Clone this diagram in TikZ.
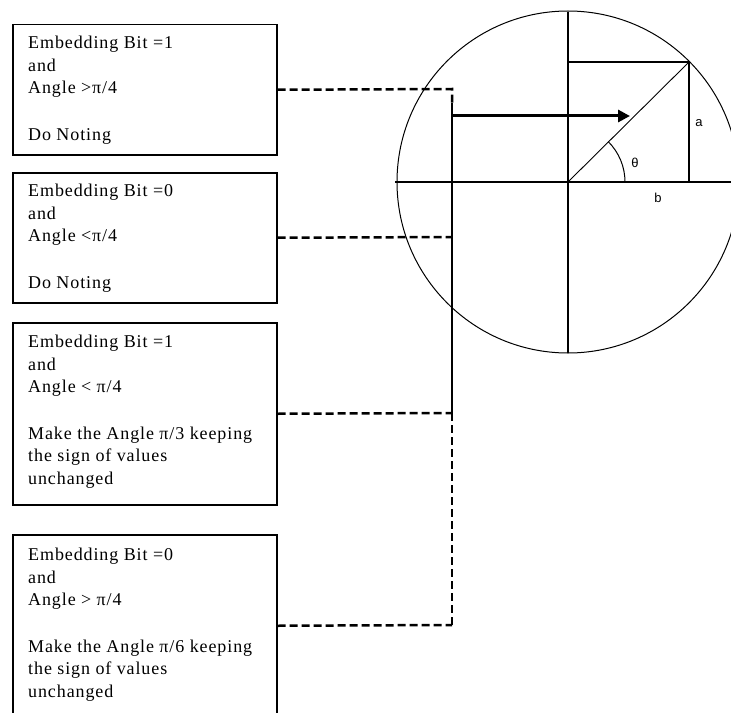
\documentclass[tikz,border=0pt]{standalone}
\usepackage{fontspec}
\setmainfont[LetterSpace=5]{Liberation Serif}
\newfontfamily\lblfont{Liberation Sans}
\usetikzlibrary{arrows.meta}
\begin{document}
\begin{tikzpicture}[x=1bp,y=-1bp,
  boxnode/.style={draw,line width=1.5bp,minimum width=264bp,inner sep=0,anchor=north west},
  txtnode/.style={align=left,inner sep=0,anchor=north west,font=\fontsize{18bp}{22.5bp}\selectfont},
  conn/.style={line width=2.5bp,dash pattern=on 8bp off 4bp},
  geo/.style={line width=1.3bp},
  lbl/.style={font=\lblfont\fontsize{13bp}{15bp}\selectfont,inner sep=0}]
\clip (0,0) rectangle (731,713);
\fill[white] (0,0) rectangle (731,713);
% boxes
\node[boxnode,minimum height=130bp] (b1) at (12,24) {};
\node[boxnode,minimum height=130bp] (b2) at (12,172) {};
\node[boxnode,minimum height=182bp] (b3) at (12,322) {};
\node[boxnode,minimum height=182bp] (b4) at (12,534) {};
% texts
\node[txtnode] (t1) at (28,36) {Embedding Bit =1\\and\\Angle >π/4\\[24bp]Do Noting};
\node[txtnode] (t2) at (28,184) {Embedding Bit =0\\and\\Angle <π/4\\[24bp]Do Noting};
\node[txtnode] (t3) at (28,335) {Embedding Bit =1\\and\\Angle < π/4\\[24bp]Make the Angle π/3 keeping\\the sign of values\\unchanged};
\node[txtnode] (t4) at (28,548) {Embedding Bit =0\\and\\Angle > π/4\\[24bp]Make the Angle π/6 keeping\\the sign of values\\unchanged};
% circle diagram
\coordinate (o) at (568,182);
\coordinate (p) at (689,62);
\draw[line width=1bp] (o) circle[radius=171];
\draw[geo] (568,12) -- (568,353);
\draw[geo] (395,182) -- (740,182);
\draw[geo] (568,62) -- (p) -- (689,182);
\draw[line width=0.9bp] (o) -- (p);
\draw[line width=1bp] (625,182) arc[start angle=0,end angle=-45,radius=57];
\node[lbl] (th) at (635,163) {θ};
\node[lbl] (la) at (699,123) {a};
\node[lbl] (lb) at (658,198) {b};
% connectors
\coordinate (j1) at (452,89);
\coordinate (jt) at (452,103);
\coordinate (j2) at (452,237);
\coordinate (j3) at (452,413);
\coordinate (j4) at (452,625);
\coordinate (a0) at (452,116);
\coordinate (a1) at (630,116);
\draw[conn] (b1.east) -- (j1) -- (jt);
\draw[line width=1.5bp] (jt) -- (j3);
\draw[conn] (b2.east) -- (j2);
\draw[conn] (b3.east) -- (j3);
\draw[line width=1.5bp,dash pattern=on 8bp off 4bp] (j3) -- (j4);
\draw[conn] (b4.east) -- (j4);
\draw[line width=3bp,-{Triangle[length=12bp,width=12bp]}] (a0) -- (a1);
\end{tikzpicture}
\end{document}
